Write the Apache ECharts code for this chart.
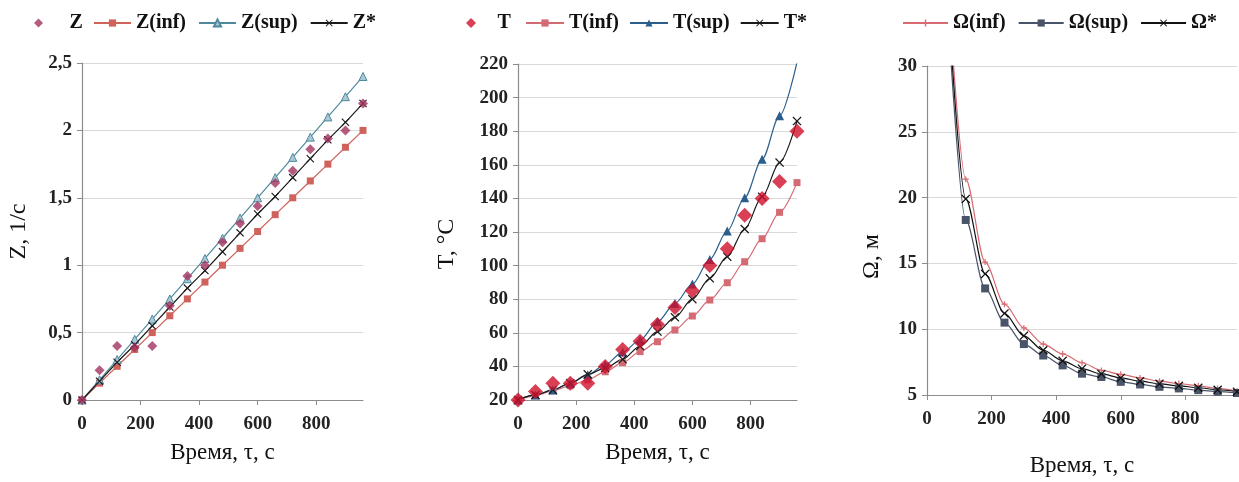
<!DOCTYPE html>
<html>
<head>
<meta charset="utf-8">
<script src="https://cdn.jsdelivr.net/npm/echarts@6/dist/echarts.min.js"></script>
<style>
  html, body { margin: 0; padding: 0; background: #fff; }
  #chart { width: 1239px; height: 482px; }
</style>
</head>
<body>
<div id="chart"></div>
<script>
// Time points, s
const timeZ = [0, 60, 120, 180, 240, 300, 360, 420, 480, 540, 600, 660, 720, 780, 840, 900, 960];
const timeT = [0, 60, 120, 180, 240, 300, 360, 420, 480, 540, 600, 660, 720, 780, 840, 900, 960];
const timeW = [60, 120, 180, 240, 300, 360, 420, 480, 540, 600, 660, 720, 780, 840, 900, 960];

// Z, 1/c
const zMeasured = [0, 0.22, 0.4, 0.39, 0.4, 0.7, 0.92, 1.0, 1.17, 1.31, 1.44, 1.61, 1.7, 1.86, 1.94, 2.0, 2.2];
const zInf = [0, 0.125, 0.25, 0.375, 0.5, 0.625, 0.75, 0.875, 1.0, 1.125, 1.25, 1.375, 1.5, 1.625, 1.75, 1.875, 2.0];
const zSup = [0, 0.15, 0.3, 0.45, 0.6, 0.75, 0.9, 1.05, 1.2, 1.35, 1.5, 1.65, 1.8, 1.95, 2.1, 2.25, 2.4];
const zStar = [0, 0.14, 0.28, 0.41, 0.55, 0.69, 0.83, 0.96, 1.1, 1.24, 1.38, 1.51, 1.65, 1.79, 1.93, 2.06, 2.2];

// T, °C
const tMeasured = [20, 25, 30, 30, 30, 40, 50, 55, 65, 75, 85, 100, 110, 130, 140, 150, 180];
const tInf = [20, 22.5, 25.5, 28.5, 32, 36.8, 42.2, 48.8, 54.7, 61.7, 70, 79.5, 89.8, 102.3, 116, 131.7, 149.4];
const tSup = [20, 23, 26, 30, 35, 41, 48.5, 55.7, 66.6, 77.5, 89, 103.7, 120.6, 140.4, 163.3, 189.2, 221];
const tStar = [20, 23, 26, 30, 35.3, 39, 44.2, 52.1, 60.7, 69.2, 80, 92.4, 105.3, 121.8, 141, 161.3, 186];

// Ω, м
const wInf = [38, 21.4, 15.1, 11.9, 10.1, 8.87, 8.12, 7.45, 6.87, 6.57, 6.3, 6.05, 5.87, 5.7, 5.5, 5.3];
const wSup = [36, 18.3, 13.1, 10.5, 8.87, 8.0, 7.25, 6.62, 6.37, 6.0, 5.8, 5.62, 5.5, 5.37, 5.25, 5.15];
const wStar = [37, 19.9, 14.2, 11.2, 9.5, 8.4, 7.6, 7.0, 6.6, 6.3, 6.05, 5.85, 5.7, 5.55, 5.4, 5.25];

const xTickValues = [0, 200, 400, 600, 800];

const pairs = (xs, ys) => xs.map((x, i) => [x, ys[i]]);
const crossSymbol = 'path://M0,1L1,0L5,4L9,0L10,1L6,5L10,9L9,10L5,6L1,10L0,9L4,5Z';
const starSymbol = 'path://M4,0L6,0L6,4L10,4L10,6L6,6L6,10L4,10L4,6L0,6L0,4L4,4Z';
const diamondIcon = 'path://M5,0L10,5L5,10L0,5Z';

const serif = '"Liberation Serif", "DejaVu Serif", serif';
const gridColor = '#d9d9d9';
const axisColor = '#8c8c8c';

const grids = [
  { left: 82, top: 63, width: 281, height: 337 },
  { left: 518, top: 64, width: 279, height: 336 },
  { left: 927, top: 66, width: 310, height: 334 }
];

function xAxisFor(gridIndex, nameGap) {
  return {
    type: 'value', gridIndex, min: 0, max: 960,
    name: 'Время, τ, с', nameLocation: 'middle', nameGap,
    nameTextStyle: { fontFamily: serif, fontSize: 23, color: '#111' },
    axisLine: { show: true, lineStyle: { color: axisColor, width: 1.2 } },
    axisTick: { show: true, length: 5, customValues: xTickValues, lineStyle: { color: axisColor } },
    axisLabel: { customValues: xTickValues, margin: 15, fontFamily: serif, fontWeight: 'bold', fontSize: 19, color: '#222' },
    splitLine: { show: false }
  };
}

function yAxisFor(gridIndex, name, min, max, interval, nameGap, shift) {
  return {
    type: 'value', gridIndex, min, max, interval,
    name, nameLocation: 'middle', nameGap,
    nameTextStyle: { fontFamily: serif, fontSize: 24, color: '#111', padding: [0, shift, 0, 0] },
    axisLine: { show: true, lineStyle: { color: axisColor, width: 1.2 } },
    axisTick: { show: true, length: 5, lineStyle: { color: axisColor } },
    axisLabel: {
      margin: 10, fontFamily: serif, fontWeight: 'bold', fontSize: 19, color: '#222',
      formatter: v => String(v).replace('.', ',')
    },
    splitLine: { show: true, lineStyle: { color: gridColor, width: 1 } }
  };
}

function lineSeries(name, idx, xs, ys, color, symbol, size, extra) {
  return Object.assign({
    name, type: 'line', xAxisIndex: idx, yAxisIndex: idx,
    data: pairs(xs, ys), symbol, symbolSize: size, clip: true,
    lineStyle: { color, width: 1.2 },
    itemStyle: { color },
    emphasis: { disabled: true },
    z: 3
  }, extra || {});
}

const legendText = { fontFamily: serif, fontWeight: 'bold', fontSize: 20, color: '#111' };

const option = {
  animation: false,
  backgroundColor: '#fff',
  grid: grids,
  legend: [
    { left: 29, top: 8, itemWidth: 36, itemHeight: 9,
      textStyle: Object.assign({ padding: [0, 0, 0, 8] }, legendText),
      data: [{ name: 'Z', icon: diamondIcon }] },
    { left: 88, top: 8, itemWidth: 37, itemHeight: 9, itemGap: 12, textStyle: legendText,
      data: ['Z(inf)', 'Z(sup)', 'Z*'] },
    { left: 461, top: 8, itemWidth: 31, itemHeight: 10,
      textStyle: Object.assign({ padding: [0, 0, 0, 6] }, legendText),
      data: [{ name: 'T', icon: diamondIcon }] },
    { left: 520, top: 8, itemWidth: 38, itemHeight: 9, itemGap: 10, textStyle: legendText,
      data: ['T(inf)', 'T(sup)', 'T*'] },
    { left: 897, top: 8, itemWidth: 45, itemHeight: 9, itemGap: 12, textStyle: legendText,
      data: ['Ω(inf)', 'Ω(sup)', 'Ω*'] }
  ],
  xAxis: [xAxisFor(0, 41), xAxisFor(1, 41), xAxisFor(2, 59)],
  yAxis: [
    yAxisFor(0, 'Z, 1/c', 0, 2.5, 0.5, 51, 0),
    yAxisFor(1, 'T, °C', 20, 220, 20, 59, 24),
    yAxisFor(2, 'Ω, м', 5, 30, 5, 43, 52)
  ],
  series: [
    { name: 'Z', type: 'scatter', xAxisIndex: 0, yAxisIndex: 0, data: pairs(timeZ, zMeasured),
      symbol: 'diamond', symbolSize: 10, itemStyle: { color: '#a2325f' }, z: 4, emphasis: { disabled: true } },
    lineSeries('Z(inf)', 0, timeZ, zInf, '#d0625c', 'rect', 7),
    lineSeries('Z(sup)', 0, timeZ, zSup, '#4f8a9c', 'triangle', 8,
      { itemStyle: { color: '#a9c7d6', borderColor: '#4f8a9c', borderWidth: 1 } }),
    lineSeries('Z*', 0, timeZ, zStar, '#1a1a1a', crossSymbol, 8),

    { name: 'T', type: 'scatter', xAxisIndex: 1, yAxisIndex: 1, data: pairs(timeT, tMeasured),
      symbol: 'diamond', symbolSize: 15, itemStyle: { color: '#d0102c' }, z: 4, emphasis: { disabled: true } },
    lineSeries('T(inf)', 1, timeT, tInf, '#d46b74', 'rect', 7, { smooth: 0.3, smoothMonotone: 'x' }),
    lineSeries('T(sup)', 1, timeT, tSup, '#2a5e8c', 'triangle', 9, { smooth: 0.3, smoothMonotone: 'x' }),
    lineSeries('T*', 1, timeT, tStar, '#1a1a1a', crossSymbol, 9, { smooth: 0.3, smoothMonotone: 'x' }),

    lineSeries('Ω(inf)', 2, timeW, wInf, '#d86b72', starSymbol, 6, { smooth: 0.3, smoothMonotone: 'x' }),
    lineSeries('Ω(sup)', 2, timeW, wSup, '#4a5468', 'rect', 8, { smooth: 0.3, smoothMonotone: 'x' }),
    lineSeries('Ω*', 2, timeW, wStar, '#111111', crossSymbol, 9, { smooth: 0.3, smoothMonotone: 'x' })
  ]
};

const chart = echarts.init(document.getElementById('chart'), null, { renderer: 'canvas' });
chart.setOption(option);
</script>
</body>
</html>
